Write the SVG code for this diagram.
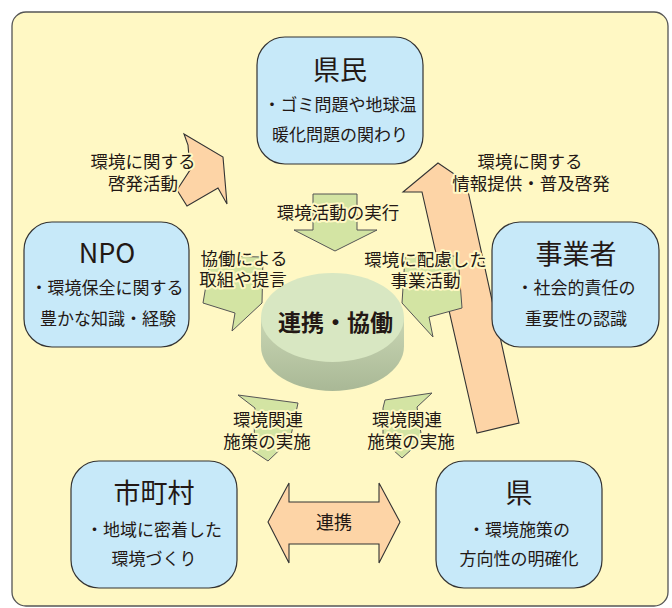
<svg xmlns="http://www.w3.org/2000/svg" width="672" height="608" viewBox="0 0 672 608">
  <defs>
    <linearGradient id="cylSide" x1="0" y1="0" x2="0" y2="1">
      <stop offset="0" stop-color="#c9d6b3"/>
      <stop offset="1" stop-color="#a9b896"/>
    </linearGradient>
  </defs>
  <style>
    text { font-family: "Noto Sans CJK JP", "Noto Sans", sans-serif; fill: #231815; text-anchor: middle; }
    .box { fill: #c7e9f9; stroke: #333; stroke-width: 1.2; }
    .title { font-size: 27px; }
    .body { font-size: 17px; }
    .lbl { font-size: 17.5px; stroke: #fff8c4; stroke-width: 4; stroke-linejoin: round; paint-order: stroke; }
    .green { fill: #d3e4a3; stroke: #555; stroke-width: 1; stroke-linejoin: miter; }
    .peach { fill: #fdd4a6; stroke: #333; stroke-width: 1.1; stroke-linejoin: miter; }
  </style>

  <rect id="frame" x="12" y="12" width="656" height="594" rx="14" fill="#fff8c4" stroke="#555" stroke-width="1.3"/>

  <g id="connectors">
    <g id="arrow-left-peach">
      <polygon class="peach" points="184,134 223,157 227,204 218,188 187,206 177,190 190,170 188,145"/>
    </g>
    <g id="arrow-right-peach">
      <polygon class="peach" points="438,163 466,182 519,423 477,433 422,192 403,192"/>
    </g>
    <g id="arrow-top-green">
      <polygon class="green" points="313,194 357,194 357,230 377,230 335,251 294,230 313,230"/>
    </g>
    <g id="arrow-left-green">
      <polygon class="green" points="211,256 263,257 262,303 232,331 235,313 203,303"/>
    </g>
    <g id="arrow-right-green">
      <polygon class="green" points="405,257 458,256 462,308 429,317 433,337 402,303"/>
    </g>
    <g id="arrow-bl-green">
      <polygon class="green" points="238,395 298,403 290,440 268,461 247,447 254,440 255,408"/>
    </g>
    <g id="arrow-br-green">
      <polygon class="green" points="385,400 432,393 417,407 422,440 402,458 383,441 383,408"/>
    </g>
    <g id="arrow-double">
      <polygon class="peach" points="268,522 289,483 289,502 379,502 379,483 400,522 379,563 379,544 289,544 289,563"/>
      <text x="334" y="529" style="font-size:18px">連携</text>
    </g>

    <text class="lbl"><tspan x="143" y="168">環境に関する</tspan><tspan x="143" y="190">啓発活動</tspan></text>
    <text class="lbl"><tspan x="530" y="168">環境に関する</tspan><tspan x="531" y="190">情報提供・普及啓発</tspan></text>
    <text class="lbl" x="338" y="218.5">環境活動の実行</text>
    <text class="lbl"><tspan x="244" y="264.5">協働による</tspan><tspan x="243" y="286">取組や提言</tspan></text>
    <text class="lbl"><tspan x="425.5" y="265.5">環境に配慮した</tspan><tspan x="425.5" y="286.5">事業活動</tspan></text>
    <text class="lbl"><tspan x="268" y="425.5">環境関連</tspan><tspan x="267" y="447.5">施策の実施</tspan></text>
    <text class="lbl"><tspan x="407" y="425.5">環境関連</tspan><tspan x="411" y="447.5">施策の実施</tspan></text>
  </g>

  <g id="center">
    <path d="M261,317.5 L261,346.5 A71.5,44.5 0 0 0 404,346.5 L404,317.5 Z" fill="url(#cylSide)"/>
    <ellipse cx="332.5" cy="317.5" rx="71.5" ry="44.5" fill="#d8e7c2"/>
    <text x="335.5" y="331" style="font-size:23px;font-weight:bold">連携・協働</text>
  </g>

  <g id="kenmin">
    <rect class="box" x="257" y="37" width="166" height="127" rx="28"/>
    <text class="title" x="340" y="80">県民</text>
    <text class="body"><tspan x="340" y="111">・ゴミ問題や地球温</tspan><tspan x="340" y="140.5">暖化問題の関わり</tspan></text>
  </g>

  <g id="npo">
    <rect class="box" x="24" y="222" width="165" height="125" rx="28"/>
    <text class="title" x="107" y="263">NPO</text>
    <text class="body"><tspan x="107" y="293.5">・環境保全に関する</tspan><tspan x="108" y="325">豊かな知識・経験</tspan></text>
  </g>

  <g id="jigyosha">
    <rect class="box" x="492" y="222" width="167" height="125" rx="28"/>
    <text class="title" x="576" y="264">事業者</text>
    <text class="body"><tspan x="576" y="294">・社会的責任の</tspan><tspan x="576" y="325">重要性の認識</tspan></text>
  </g>

  <g id="shichoson">
    <rect class="box" x="71" y="461" width="166" height="127" rx="28"/>
    <text class="title" x="154" y="503">市町村</text>
    <text class="body"><tspan x="154" y="535.5">・地域に密着した</tspan><tspan x="154" y="564.5">環境づくり</tspan></text>
  </g>

  <g id="ken">
    <rect class="box" x="436" y="461" width="166" height="127" rx="28"/>
    <text class="title" x="519" y="503">県</text>
    <text class="body"><tspan x="519" y="535.5">・環境施策の</tspan><tspan x="519" y="564.5">方向性の明確化</tspan></text>
  </g>
</svg>
